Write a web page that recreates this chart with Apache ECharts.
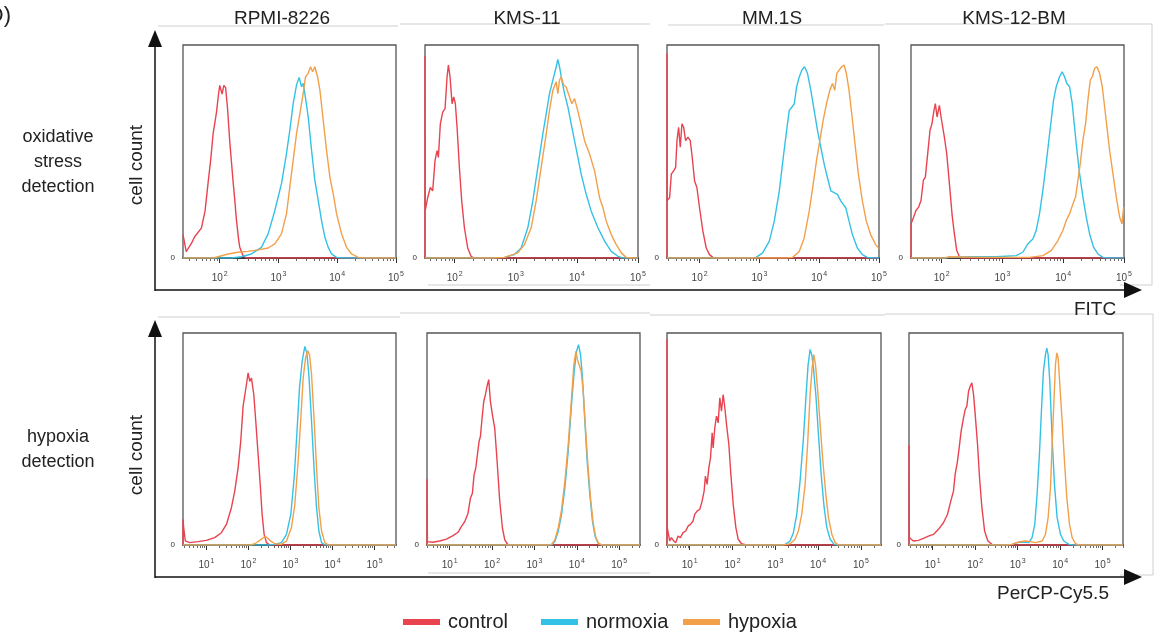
<!DOCTYPE html>
<html><head><meta charset="utf-8">
<script src="https://cdn.jsdelivr.net/npm/echarts@6/dist/echarts.min.js"></script>
<style>html,body{margin:0;padding:0;background:#fff}#c{width:1156px;height:632px}</style>
</head><body><div id="c"></div>
<script>
// ---------- labels ----------
const columnTitles = ['RPMI-8226', 'KMS-11', 'MM.1S', 'KMS-12-BM'];
const seriesNames = ['control', 'normoxia', 'hypoxia'];
const topDecades = [2, 3, 4, 5];       // exponents of 10 shown on the FITC axes
const bottomDecades = [1, 2, 3, 4, 5]; // exponents of 10 shown on the PerCP-Cy5.5 axes
const topXMin = [1.375, 1.513, 1.455, 1.494];
const topXMax = [5, 5, 5, 5];
const bottomXMin = [0.444, 0.465, 0.469, 0.441];
const bottomXMax = [5.508, 5.49, 5.469, 5.48];

// ---------- data: [log10 intensity, cell count (% of panel max)] ----------
// oxidative stress (FITC)
const t1Control = [[1.375,11],[1.43,3],[1.52,7],[1.574,10],[1.688,14],[1.75,22],[1.801,35],[1.85,47],[1.886,58],[1.943,68],[1.98,77],[2.0,81],[2.04,77],[2.07,81],[2.1,80],[2.131,71],[2.17,55],[2.2,45],[2.227,36],[2.26,26],[2.284,18],[2.32,9],[2.341,5],[2.398,1],[2.455,0],[5,0]];
const t1Normoxia = [[1.375,0],[2.2,0],[2.369,0.6],[2.54,1.9],[2.71,5],[2.824,11.3],[2.938,22.3],[3.051,34.9],[3.136,49],[3.193,60],[3.25,72.5],[3.307,81.2],[3.352,84.8],[3.392,80.4],[3.42,82],[3.449,77.2],[3.506,66.2],[3.563,50.5],[3.619,36.4],[3.676,27],[3.733,17.6],[3.79,9.7],[3.847,5],[3.903,1.9],[3.989,0.3],[4.1,0],[5,0]];
const t1Hypoxia = [[1.375,0],[1.9,0],[1.972,0.6],[2.142,1.9],[2.313,2.7],[2.483,3.1],[2.653,3.8],[2.824,4.7],[2.938,6.6],[3.051,11.3],[3.136,20.7],[3.193,33.3],[3.25,45.8],[3.307,58.4],[3.364,67.8],[3.42,77.2],[3.46,85.1],[3.506,86.7],[3.545,89.8],[3.58,87.4],[3.619,89.8],[3.665,85.1],[3.705,78.8],[3.761,64.7],[3.818,50.5],[3.875,38],[3.932,30.1],[3.989,20.7],[4.074,11.3],[4.159,5],[4.244,1.9],[4.358,0.3],[4.45,0],[5,0]];

const t2Control = [[1.513,0],[1.513,95],[1.515,22],[1.529,22],[1.557,28.3],[1.6,33.1],[1.639,31.5],[1.677,45.7],[1.71,50.4],[1.732,47.2],[1.764,63],[1.803,68.5],[1.841,70.1],[1.874,85],[1.896,90.6],[1.923,85],[1.956,72.4],[1.983,75.6],[2.01,72.4],[2.038,61.4],[2.076,42.5],[2.114,26.8],[2.158,14.2],[2.212,4.7],[2.267,0.8],[2.322,0],[5,0]];
const t2Normoxia = [[1.513,0],[2.6,0],[2.814,0.3],[2.977,1.6],[3.087,4.7],[3.196,14.2],[3.278,26.8],[3.36,42.5],[3.442,58.3],[3.497,67.7],[3.551,77.2],[3.606,83.5],[3.661,89.8],[3.688,93.2],[3.715,89.8],[3.753,83.5],[3.797,77.2],[3.852,70.9],[3.906,63],[3.961,55.1],[4.005,48.8],[4.07,39.4],[4.152,29.9],[4.234,22],[4.344,14.2],[4.453,7.9],[4.562,3.1],[4.672,0.8],[4.75,0],[5,0]];
const t2Hypoxia = [[1.513,0],[2.6,0],[2.814,0.3],[3.032,2.4],[3.141,6.3],[3.251,14.2],[3.333,26.8],[3.415,42.5],[3.497,58.3],[3.551,69.3],[3.606,78.7],[3.661,82.7],[3.688,77.2],[3.715,83.5],[3.742,85],[3.786,81.1],[3.824,80.3],[3.879,75.6],[3.917,72.4],[3.961,74.8],[4.005,70.1],[4.059,63.8],[4.125,55.1],[4.207,48.8],[4.289,40.9],[4.371,28.3],[4.426,23.6],[4.48,17.3],[4.562,11],[4.644,6.3],[4.726,2.4],[4.808,0.3],[4.9,0],[5,0]];

const t3Control = [[1.455,0],[1.455,96],[1.458,27],[1.472,27.6],[1.499,28.3],[1.527,39.4],[1.566,40.9],[1.599,42.5],[1.622,55.1],[1.649,61.4],[1.677,52],[1.705,63],[1.733,61.4],[1.766,55.1],[1.805,56.7],[1.844,55.1],[1.877,47.2],[1.916,36.2],[1.955,33.1],[1.999,23.6],[2.055,12.6],[2.111,4.7],[2.166,1.6],[2.222,0.3],[2.305,0],[5,0]];
const t3Normoxia = [[1.455,0],[2.8,0],[2.944,0.3],[3.055,2.4],[3.166,7.9],[3.249,17.3],[3.333,31.5],[3.399,47.2],[3.455,59.8],[3.499,69.3],[3.544,70.9],[3.583,72.4],[3.622,80.3],[3.666,85],[3.71,88.2],[3.755,89.8],[3.805,86.6],[3.86,78.7],[3.916,69.3],[3.972,59.8],[4.027,52],[4.083,44.1],[4.138,37.8],[4.194,31.5],[4.249,30.7],[4.305,29.9],[4.36,26.8],[4.444,23.6],[4.499,17.3],[4.555,11],[4.638,4.7],[4.722,1.6],[4.805,0.3],[4.9,0],[5,0]];
const t3Hypoxia = [[1.455,0],[3.45,0],[3.555,0.3],[3.666,3.1],[3.749,9.4],[3.833,22],[3.899,34.6],[3.955,45.7],[4.01,55.1],[4.066,64.6],[4.122,72.4],[4.177,78.7],[4.222,81.9],[4.26,78.7],[4.294,86.6],[4.333,88.2],[4.377,89.8],[4.416,90.6],[4.455,86.6],[4.499,78.7],[4.544,67.7],[4.599,53.5],[4.655,39.4],[4.722,26.8],[4.788,17.3],[4.86,11],[4.944,6.3],[5.0,4.4]];

const t4Control = [[1.494,0],[1.494,16],[1.505,16],[1.538,19.2],[1.576,22.3],[1.62,23.9],[1.659,27],[1.697,36.4],[1.73,38],[1.769,49],[1.807,60],[1.84,63.1],[1.868,68.6],[1.895,72.5],[1.923,66.2],[1.961,71.7],[1.989,66.2],[2.016,67],[2.043,56.8],[2.082,49],[2.126,34.9],[2.17,20.4],[2.208,11.3],[2.247,3.5],[2.291,0.6],[2.346,0],[5,0]];
const t4Normoxia = [[1.494,0],[2.05,0],[2.126,0.3],[2.456,0.6],[2.895,0.6],[3.225,1.1],[3.335,2.7],[3.417,6.6],[3.5,8.9],[3.554,12.9],[3.609,20.7],[3.664,31.7],[3.719,44.3],[3.763,55.3],[3.802,64.7],[3.84,74.1],[3.884,80.4],[3.939,85.1],[3.983,87.4],[4.021,85.1],[4.06,81.9],[4.104,80.4],[4.148,72.5],[4.186,61.5],[4.225,50.5],[4.269,39.6],[4.324,28.6],[4.379,19.2],[4.434,11.3],[4.5,5],[4.571,1.9],[4.653,0.3],[4.75,0],[5,0]];
const t4Hypoxia = [[1.494,0],[2.05,0],[2.126,0.6],[2.73,0.3],[3.445,0.3],[3.664,1.1],[3.802,3.5],[3.912,8.2],[3.994,12.9],[4.049,17.6],[4.104,20.7],[4.159,25.4],[4.203,28.6],[4.241,36.4],[4.28,44.3],[4.324,55.3],[4.368,63.1],[4.406,74.1],[4.445,83.5],[4.478,85.1],[4.516,89],[4.555,89.8],[4.599,86.7],[4.642,80.4],[4.681,71],[4.719,61.5],[4.763,50.5],[4.818,39.6],[4.873,28.6],[4.928,19.2],[4.967,16],[4.994,23.9]];

// hypoxia (PerCP-Cy5.5)
const b1Control = [[0.444,0],[0.444,12],[0.46,8.2],[0.5,1.9],[0.603,1.1],[0.801,1.6],[1.0,2.2],[1.198,3.5],[1.357,5.8],[1.476,9.7],[1.595,17.6],[1.674,25.4],[1.754,36.4],[1.817,49],[1.873,65.5],[1.912,66.2],[1.952,75.7],[1.992,81.2],[2.031,77.2],[2.071,78.8],[2.127,71],[2.174,58.4],[2.23,42.7],[2.285,27],[2.325,14.4],[2.373,5],[2.428,1.1],[2.507,0],[5.508,0]];
const b1Normoxia = [[0.444,0],[2.5,0],[2.627,0.3],[2.785,1.1],[2.904,5],[3.007,14.4],[3.087,31.7],[3.15,52.1],[3.214,74.1],[3.277,86.7],[3.341,93.7],[3.388,90.6],[3.436,80.4],[3.5,58.4],[3.563,34.9],[3.619,17.6],[3.674,6.6],[3.738,1.1],[3.817,0],[5.508,0]];
const b1Hypoxia = [[0.444,0],[2.05,0],[2.15,0.6],[2.269,2.2],[2.373,3.8],[2.428,3.8],[2.507,2.2],[2.627,0.6],[2.785,0.3],[2.904,1.9],[3.023,8.2],[3.103,19.2],[3.182,39.6],[3.246,60],[3.301,78.8],[3.357,88.2],[3.404,91.7],[3.452,89.8],[3.5,80.4],[3.563,58.4],[3.619,36.4],[3.674,17.6],[3.738,6.6],[3.817,1.1],[3.896,0],[5.508,0]];

const b2Control = [[0.465,0],[0.465,31],[0.475,1.6],[0.489,1.6],[0.607,1.3],[0.764,1.9],[0.922,2.8],[1.079,4.4],[1.197,6],[1.276,8.7],[1.355,11],[1.433,15],[1.489,22],[1.536,24.4],[1.575,33.1],[1.615,36.2],[1.654,42.5],[1.693,48.8],[1.725,51.2],[1.764,59.8],[1.804,67.7],[1.843,70.9],[1.89,75.6],[1.922,78],[1.961,67.7],[2.008,61.4],[2.063,55.1],[2.119,39.4],[2.182,20.5],[2.245,7.9],[2.3,2.4],[2.378,0],[5.49,0]];
const b2Normoxia = [[0.465,0],[3.3,0],[3.402,0],[3.481,1.6],[3.559,6.3],[3.638,14.2],[3.717,26.8],[3.796,44.1],[3.874,66.1],[3.937,81.9],[3.993,91.3],[4.04,94.5],[4.087,89.8],[4.134,78.7],[4.189,58.3],[4.244,39.4],[4.307,23.6],[4.37,11],[4.433,3.9],[4.504,0.8],[4.583,0],[5.49,0]];
const b2Hypoxia = [[0.465,0],[3.3,0],[3.402,0.3],[3.481,2.4],[3.559,7.9],[3.638,16.5],[3.717,29.9],[3.796,47.2],[3.874,69.3],[3.929,85],[3.977,91.3],[4.016,87.4],[4.055,86.6],[4.102,81.9],[4.15,72.4],[4.205,55.1],[4.26,37.8],[4.323,22],[4.386,10.2],[4.449,3.5],[4.52,0.6],[4.599,0],[5.49,0]];

const b3Control = [[0.469,0],[0.469,97],[0.475,8.2],[0.492,8.2],[0.532,1.9],[0.571,3.5],[0.625,1.9],[0.672,1.1],[0.727,4.2],[0.782,3.5],[0.844,5.8],[0.907,6.6],[0.961,8.9],[1.016,9.7],[1.078,11.3],[1.117,14.4],[1.172,16],[1.235,16.8],[1.289,20.7],[1.336,25.4],[1.367,32.5],[1.407,28.6],[1.446,36.4],[1.485,41.1],[1.524,52.9],[1.547,45.8],[1.586,55.3],[1.625,60.8],[1.664,57.6],[1.703,69.4],[1.742,63.1],[1.781,71],[1.821,64.7],[1.86,56.8],[1.914,47.4],[1.961,33.3],[2.016,19.2],[2.078,8.2],[2.133,2.7],[2.211,0.6],[2.328,0],[5.469,0]];
const b3Normoxia = [[0.469,0],[3.1,0],[3.227,0.3],[3.344,1.9],[3.422,5.8],[3.5,14.4],[3.578,30.1],[3.657,50.5],[3.719,71],[3.766,85.1],[3.813,92.2],[3.852,89.8],[3.891,83.5],[3.946,71],[4.008,52.1],[4.071,33.3],[4.141,17.6],[4.203,8.2],[4.282,2.7],[4.375,0.3],[4.45,0],[5.469,0]];
const b3Hypoxia = [[0.469,0],[3.2,0],[3.344,0.6],[3.461,2.7],[3.539,6.6],[3.617,14.4],[3.696,28.6],[3.758,49],[3.813,71],[3.86,83.5],[3.899,89.8],[3.938,85.1],[3.985,74.1],[4.047,56.8],[4.11,39.6],[4.18,23.9],[4.242,12.9],[4.321,5],[4.399,1.1],[4.477,0],[5.469,0]];

const b4Control = [[0.441,0],[0.441,47],[0.45,3.5],[0.465,3.5],[0.543,1.9],[0.661,2.2],[0.78,3.1],[0.898,4.2],[1.016,5],[1.134,7.4],[1.252,10.5],[1.346,14.4],[1.425,20.7],[1.488,25.4],[1.528,33.3],[1.583,39.6],[1.622,45.8],[1.669,53.7],[1.724,60],[1.764,63.9],[1.803,65.5],[1.843,72.5],[1.882,74.9],[1.921,76.5],[1.961,71],[2.0,61.5],[2.055,47.4],[2.102,31.7],[2.158,17.6],[2.221,6.6],[2.299,1.9],[2.394,0.3],[2.45,0],[5.48,0]];
const b4Normoxia = [[0.441,0],[2.75,0],[2.866,0.3],[2.984,1.1],[3.142,1.4],[3.26,1.1],[3.339,3.5],[3.402,9.7],[3.457,23.9],[3.512,42.7],[3.559,63.1],[3.606,81.9],[3.654,89.8],[3.685,92.9],[3.717,89.8],[3.756,77.2],[3.811,50.5],[3.866,28.6],[3.929,12.9],[4.008,5],[4.087,1.9],[4.205,0.3],[4.3,0],[5.48,0]];
const b4Hypoxia = [[0.441,0],[2.75,0],[2.866,0.3],[3.024,1.4],[3.181,1.9],[3.299,1.6],[3.417,1.1],[3.575,1.9],[3.654,5],[3.717,12.9],[3.772,27],[3.811,47.4],[3.85,66.2],[3.89,85.1],[3.921,90.6],[3.953,88.2],[3.992,75.7],[4.047,58.4],[4.102,39.6],[4.157,22.3],[4.22,9.7],[4.283,3.5],[4.362,0.6],[4.441,0],[5.48,0]];

// ---------- assembly ----------
const FONT = '"Liberation Sans", Arial, sans-serif';
const colors = ['#e8434f', '#35c1e6', '#f2a04a'];
const panelData = [
  [t1Control, t1Normoxia, t1Hypoxia], [t2Control, t2Normoxia, t2Hypoxia],
  [t3Control, t3Normoxia, t3Hypoxia], [t4Control, t4Normoxia, t4Hypoxia],
  [b1Control, b1Normoxia, b1Hypoxia], [b2Control, b2Normoxia, b2Hypoxia],
  [b3Control, b3Normoxia, b3Hypoxia], [b4Control, b4Normoxia, b4Hypoxia]
];
const boxes = [
  [183, 45, 213, 213], [425, 45, 213, 213], [667, 45, 212, 213], [911, 45, 213, 213],
  [183, 333, 213, 212], [427, 333, 213, 212], [667, 333, 214, 212], [909, 333, 214, 212]
];

const grid = [], xAxis = [], yAxis = [], series = [];
for (let i = 0; i < 8; i++) {
  const top = i < 4;
  const c = i % 4;
  const min = top ? topXMin[c] : bottomXMin[c];
  const max = top ? topXMax[c] : bottomXMax[c];
  const decades = top ? topDecades : bottomDecades;
  const minor = [];
  for (let d = 0; d <= 5; d++) for (let k = 2; k <= 9; k++) {
    const v = d + Math.log10(k);
    if (v > min && v < max) minor.push(v);
  }
  const b = boxes[i];
  grid.push({ left: b[0], top: b[1], width: b[2], height: b[3], show: true,
    borderColor: '#555', borderWidth: 1.3, backgroundColor: '#fff' });
  xAxis.push({ gridIndex: i, type: 'value', position: 'bottom', min, max,
    axisLine: { show: true, onZero: false, lineStyle: { color: '#222', width: 1.5 } },
    axisTick: { show: true, customValues: decades, length: 5, lineStyle: { color: '#333', width: 1 } },
    axisLabel: { customValues: decades, margin: 13,
      formatter: v => '{b|10}{s|' + Math.round(v) + '}',
      rich: { b: { fontSize: 10, color: '#444', fontFamily: FONT },
              s: { fontSize: 7, color: '#444', fontFamily: FONT, padding: [0, 0, 8, 1] } } },
    splitLine: { show: false } });
  xAxis.push({ gridIndex: i, type: 'value', position: 'bottom', min, max,
    axisLine: { show: false },
    axisTick: { show: true, customValues: minor, length: 3, lineStyle: { color: '#444', width: 0.8 } },
    axisLabel: { show: false }, splitLine: { show: false } });
  yAxis.push({ gridIndex: i, type: 'value', min: 0, max: 100,
    axisLine: { show: false }, axisTick: { show: false }, splitLine: { show: false },
    axisLabel: { customValues: [0], fontSize: 8, color: '#333', margin: 8, fontFamily: FONT, padding: [0, 0, 4, 0] } });
  panelData[i].forEach((d, s) => {
    series.push({ type: 'line', name: seriesNames[s], xAxisIndex: 2 * i, yAxisIndex: i,
      data: d, symbol: 'none', showSymbol: false, clip: true, animation: false,
      lineStyle: { width: 1.4, color: colors[s] }, itemStyle: { color: colors[s] }, z: 2 + s });
  });
}

const legendLeft = [398, 536, 678];
const legend = seriesNames.map((n, k) => ({
  data: [n], left: legendLeft[k], top: 607, icon: 'rect', itemWidth: 37, itemHeight: 6,
  selectedMode: false, textStyle: { fontSize: 20, color: '#222', fontFamily: FONT, padding: [0, 0, 0, 3] }
}));

function txt(x, y, text, size, opts) {
  return Object.assign({ type: 'text', x, y, silent: true,
    style: { text, font: size + 'px ' + FONT, fill: '#222', textAlign: 'center', align: 'center',
      textVerticalAlign: 'middle', verticalAlign: 'middle', lineHeight: 25 } }, opts || {});
}
const titleX = [282, 527, 772, 1014];
const ink = { stroke: '#111', lineWidth: 1.5 };
const faint = { stroke: '#cfcfcf', lineWidth: 1 };
const graphic = [
  // faint frames of the pasted panels
  { type: 'polyline', shape: { points: [[158, 26], [398, 26]] }, style: faint, silent: true },
  { type: 'polyline', shape: { points: [[400, 24], [650, 24]] }, style: faint, silent: true },
  { type: 'polyline', shape: { points: [[428, 285], [650, 285]] }, style: faint, silent: true },
  { type: 'polyline', shape: { points: [[668, 25], [884, 25]] }, style: faint, silent: true },
  { type: 'polyline', shape: { points: [[885, 24], [1152, 24], [1152, 285], [1120, 285]] }, style: faint, silent: true },
  { type: 'polyline', shape: { points: [[158, 317], [400, 317]] }, style: faint, silent: true },
  { type: 'polyline', shape: { points: [[400, 313], [650, 313]] }, style: faint, silent: true },
  { type: 'polyline', shape: { points: [[428, 573], [650, 573]] }, style: faint, silent: true },
  { type: 'polyline', shape: { points: [[650, 315], [885, 315]] }, style: faint, silent: true },
  { type: 'polyline', shape: { points: [[885, 314], [1153, 314], [1153, 575], [1120, 575]] }, style: faint, silent: true },
  // big axes with arrows
  { type: 'line', shape: { x1: 155, y1: 291, x2: 155, y2: 42 }, style: ink, silent: true },
  { type: 'polygon', shape: { points: [[155, 30], [148, 47], [162, 47]] }, style: { fill: '#111' }, silent: true },
  { type: 'line', shape: { x1: 155, y1: 290, x2: 1128, y2: 290 }, style: ink, silent: true },
  { type: 'polygon', shape: { points: [[1142, 290], [1124, 282], [1124, 298]] }, style: { fill: '#111' }, silent: true },
  { type: 'line', shape: { x1: 155, y1: 578, x2: 155, y2: 332 }, style: ink, silent: true },
  { type: 'polygon', shape: { points: [[155, 320], [148, 337], [162, 337]] }, style: { fill: '#111' }, silent: true },
  { type: 'line', shape: { x1: 155, y1: 577, x2: 1128, y2: 577 }, style: ink, silent: true },
  { type: 'polygon', shape: { points: [[1142, 577], [1124, 569], [1124, 585]] }, style: { fill: '#111' }, silent: true },
  // texts
  txt(11, 16, 'D)', 22, { style: { text: 'D)', font: '22px ' + FONT, fill: '#222', textAlign: 'right', align: 'right', textVerticalAlign: 'middle', verticalAlign: 'middle' } }),
  ...columnTitles.map((t, k) => txt(titleX[k], 19, t, 19)),
  txt(58, 162, 'oxidative\nstress\ndetection', 18),
  txt(58, 450, 'hypoxia\ndetection', 18),
  txt(137, 165, 'cell count', 19, { rotation: Math.PI / 2 }),
  txt(137, 455, 'cell count', 19, { rotation: Math.PI / 2 }),
  txt(1095, 310, 'FITC', 19),
  txt(1053, 594, 'PerCP-Cy5.5', 19)
];

const chart = echarts.init(document.getElementById('c'), null, { renderer: 'canvas' });
chart.setOption({ backgroundColor: '#fff', animation: false, grid, xAxis, yAxis, series, legend, graphic });
</script>
</body></html>
